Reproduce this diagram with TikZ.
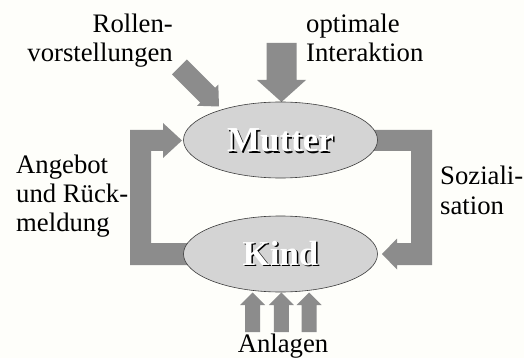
\documentclass[tikz,border=0pt]{standalone}
\usepackage{fontspec}
\setmainfont{Liberation Serif}
\usetikzlibrary{shapes.geometric}
\definecolor{bgcol}{RGB}{254,254,250}
\definecolor{arrowgray}{RGB}{140,140,140}
\definecolor{ellfill}{RGB}{212,212,212}
\definecolor{ellline}{RGB}{60,60,60}
\tikzset{
  blockarrow/.style={fill=arrowgray, draw=none},
  person/.style={ellipse, fill=ellfill, draw=ellline, line width=0.6pt,
    minimum width=194pt, minimum height=76pt, inner sep=0pt},
  lbl/.style={inner sep=0pt, font=\fontsize{26.7}{29}\selectfont},
  bigname/.style={inner sep=0pt, anchor=base, font=\fontsize{35}{40}\selectfont\bfseries}
}
\begin{document}
\begin{tikzpicture}[x=1pt,y=-1pt]
\fill[bgcol] (0,0) rectangle (524,358);
\useasboundingbox (0,0) rectangle (524,358);

% loop arrows (behind the ellipses)
\fill[blockarrow] (215,243) -- (151,243) -- (151,151) -- (163,151) -- (163,158)
  -- (182,140.5) -- (163,123) -- (163,130) -- (130,130) -- (130,265) -- (215,265) -- cycle;
\fill[blockarrow] (340,130) -- (432,130) -- (432,265) -- (397,265) -- (397,269.5)
  -- (382,254) -- (397,238.5) -- (397,243) -- (411,243) -- (411,151) -- (340,151) -- cycle;

% top arrows
\fill[blockarrow] (266.5,43) -- (296.5,43) -- (296.5,80) -- (306,80) -- (281.5,102)
  -- (257,80) -- (266.5,80) -- cycle;
\fill[blockarrow] (186.8,59.5) -- (215.1,87.8) -- (218.3,84.6) -- (219,106.5)
  -- (197.1,105.8) -- (200.3,102.6) -- (172.0,74.3) -- cycle;

% bottom arrows
\foreach \cx in {252.5,281.3,309.2}{
  \fill[blockarrow] (\cx-7.5,332) -- (\cx+7.5,332) -- (\cx+7.5,305) -- (\cx+12.5,305)
    -- (\cx,292.5) -- (\cx-12.5,305) -- (\cx-7.5,305) -- cycle;
}

% ellipses
\node[person] (mutter) at (280.5,140) {};
\node[person] (kind) at (280.5,254) {};

% names with shadow
\node[bigname, text=black] at (282,153.5) {Mutter};
\node[bigname, text=white] (muttertext) at (280.5,152) {Mutter};
\node[bigname, text=black] at (282,266.5) {Kind};
\node[bigname, text=white] (kindtext) at (280.5,265) {Kind};

% labels (anchor base = baseline of the last line)
\node[lbl, anchor=base east, align=right] (rollen) at (173,62) {Rollen-\\vorstellungen};
\node[lbl, anchor=base west, align=left] (optimal) at (306,62) {optimale\\Interaktion};
\node[lbl, anchor=base west, align=left] (angebot) at (16,231) {Angebot\\und Rück-\\meldung};
\node[lbl, anchor=base west, align=left] (sozial) at (440,214) {Soziali-\\sation};
\node[lbl, anchor=base] (anlagen) at (283,352) {Anlagen};
\end{tikzpicture}
\end{document}
